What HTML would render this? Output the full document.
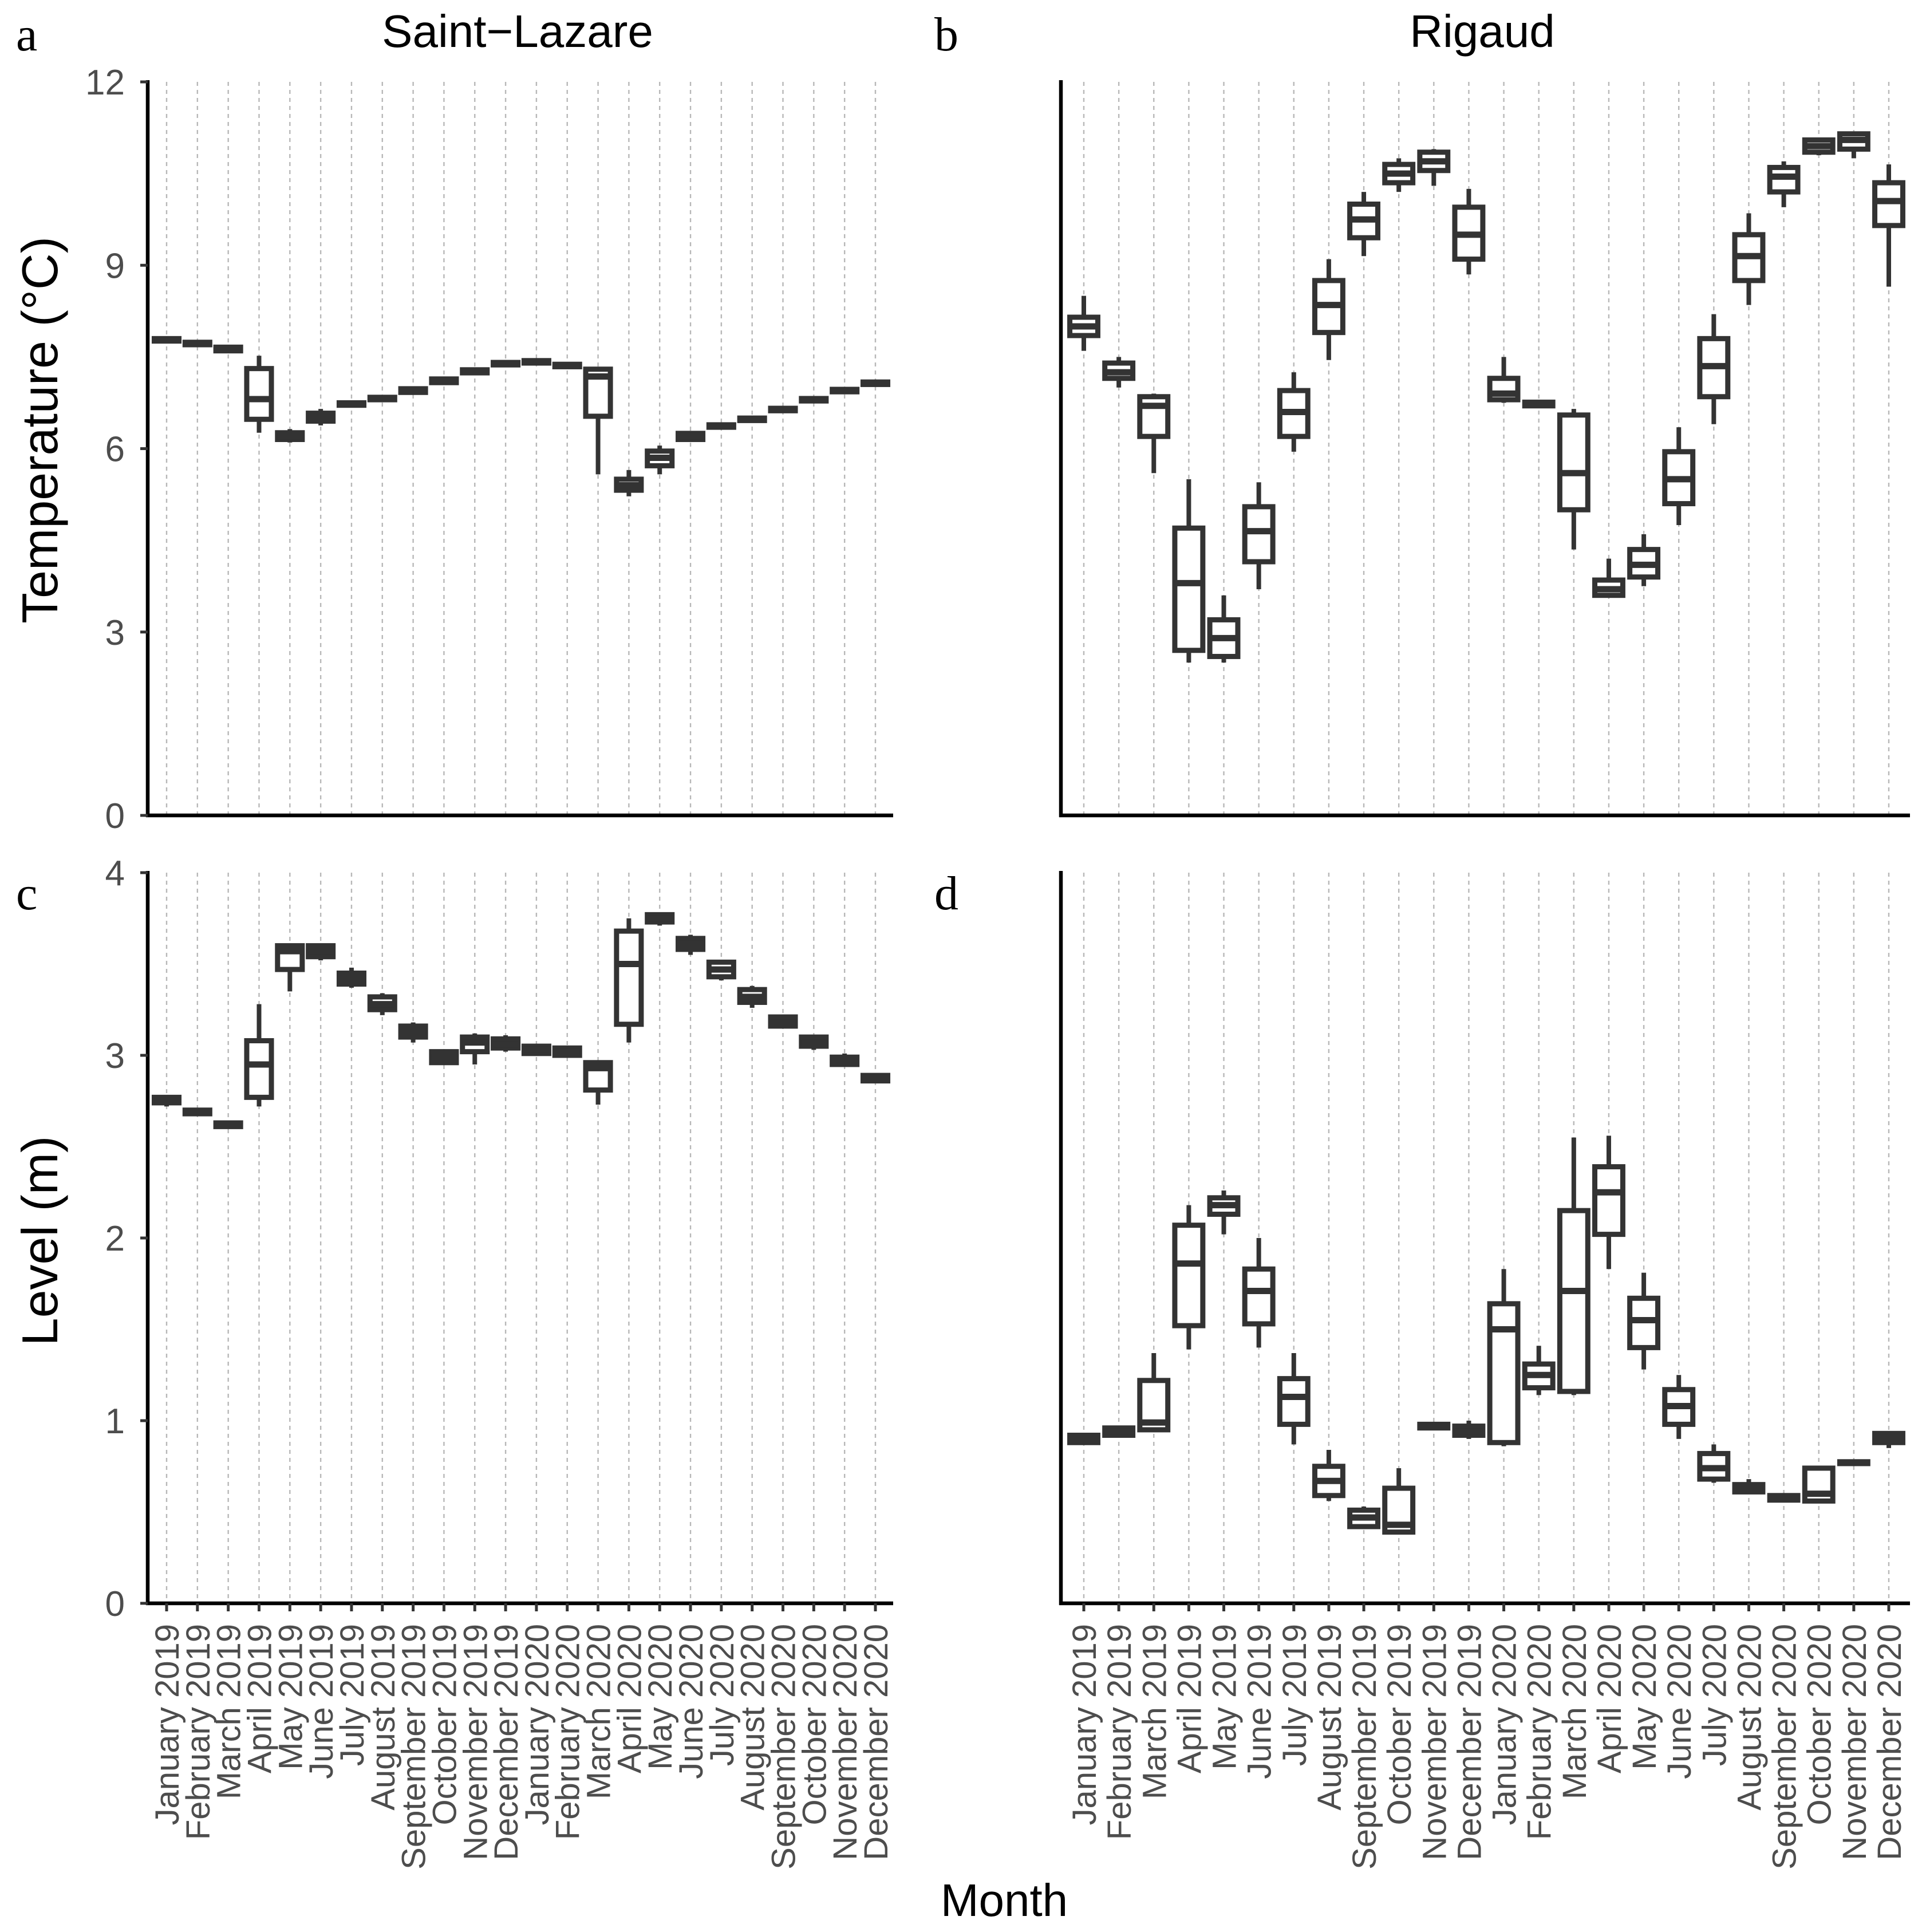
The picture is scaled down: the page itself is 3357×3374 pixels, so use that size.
<!DOCTYPE html>
<html><head><meta charset="utf-8"><style>
html,body{margin:0;padding:0;background:#fff}
svg{display:block}
text{font-family:"Liberation Sans",sans-serif}
</style></head><body>
<svg id="chart" width="3357" height="3374" viewBox="0 0 3357 3374" xmlns="http://www.w3.org/2000/svg"></svg>
<script>
const months = ["January 2019","February 2019","March 2019","April 2019","May 2019","June 2019","July 2019","August 2019","September 2019","October 2019","November 2019","December 2019","January 2020","February 2020","March 2020","April 2020","May 2020","June 2020","July 2020","August 2020","September 2020","October 2020","November 2020","December 2020"];
// [min, q1, median, q3, max]
const tempSaintLazare = [[7.74,7.76,7.78,7.80,7.82],[7.68,7.70,7.72,7.74,7.76],[7.57,7.60,7.63,7.66,7.68],[6.26,6.48,6.81,7.31,7.52],[6.10,6.15,6.20,6.26,6.32],[6.38,6.45,6.52,6.58,6.65],[6.70,6.71,6.73,6.75,6.77],[6.78,6.80,6.82,6.84,6.86],[6.90,6.92,6.95,6.98,7.00],[7.06,7.08,7.11,7.14,7.16],[7.22,7.24,7.26,7.29,7.31],[7.35,7.37,7.39,7.41,7.43],[7.38,7.40,7.42,7.44,7.46],[7.32,7.34,7.36,7.38,7.40],[5.58,6.53,7.18,7.30,7.32],[5.22,5.32,5.40,5.50,5.65],[5.58,5.72,5.85,5.96,6.05],[6.12,6.15,6.20,6.25,6.28],[6.34,6.35,6.37,6.39,6.41],[6.44,6.46,6.48,6.50,6.52],[6.60,6.62,6.64,6.66,6.68],[6.76,6.78,6.80,6.82,6.84],[6.92,6.93,6.95,6.97,6.99],[7.03,7.05,7.07,7.09,7.11]];
const tempRigaud = [[7.6,7.85,8.0,8.15,8.5],[7.0,7.15,7.25,7.4,7.5],[5.6,6.2,6.7,6.85,6.9],[2.5,2.7,3.8,4.7,5.5],[2.5,2.6,2.9,3.2,3.6],[3.7,4.15,4.65,5.05,5.45],[5.95,6.2,6.6,6.95,7.25],[7.45,7.9,8.35,8.75,9.1],[9.15,9.45,9.75,10.0,10.2],[10.2,10.35,10.5,10.65,10.75],[10.3,10.55,10.7,10.85,10.9],[8.85,9.1,9.5,9.95,10.25],[6.75,6.8,6.9,7.15,7.5],[6.68,6.7,6.73,6.76,6.78],[4.35,5.0,5.6,6.55,6.65],[3.6,3.6,3.7,3.85,4.2],[3.75,3.9,4.1,4.35,4.6],[4.75,5.1,5.5,5.95,6.35],[6.4,6.85,7.35,7.8,8.2],[8.35,8.75,9.15,9.5,9.85],[9.95,10.2,10.45,10.6,10.7],[10.8,10.85,10.95,11.05,11.05],[10.75,10.9,11.05,11.15,11.15],[8.65,9.65,10.05,10.35,10.65]];
const levelSaintLazare = [[2.72,2.74,2.75,2.77,2.78],[2.67,2.68,2.69,2.70,2.71],[2.60,2.61,2.62,2.63,2.64],[2.72,2.77,2.95,3.08,3.28],[3.35,3.47,3.57,3.60,3.60],[3.52,3.54,3.57,3.60,3.61],[3.37,3.39,3.42,3.45,3.48],[3.22,3.25,3.28,3.32,3.34],[3.07,3.10,3.13,3.16,3.18],[2.95,2.96,2.99,3.02,3.03],[2.95,3.02,3.07,3.10,3.12],[3.02,3.04,3.06,3.09,3.11],[3.00,3.01,3.03,3.05,3.06],[2.99,3.00,3.02,3.04,3.05],[2.73,2.81,2.93,2.96,2.97],[3.07,3.17,3.50,3.68,3.75],[3.71,3.73,3.75,3.77,3.78],[3.55,3.58,3.61,3.64,3.66],[3.41,3.43,3.47,3.51,3.52],[3.26,3.29,3.32,3.36,3.38],[3.15,3.16,3.18,3.21,3.22],[3.03,3.05,3.07,3.10,3.11],[2.94,2.95,2.97,2.99,3.01],[2.85,2.86,2.87,2.89,2.90]];
const levelRigaud = [[0.87,0.88,0.90,0.92,0.93],[0.91,0.92,0.94,0.96,0.97],[0.94,0.95,0.99,1.22,1.37],[1.39,1.52,1.86,2.07,2.18],[2.02,2.13,2.18,2.22,2.26],[1.40,1.53,1.71,1.83,2.00],[0.87,0.98,1.13,1.23,1.37],[0.56,0.59,0.67,0.75,0.84],[0.41,0.42,0.47,0.51,0.53],[0.38,0.39,0.43,0.63,0.74],[0.95,0.96,0.97,0.98,0.99],[0.90,0.92,0.94,0.97,1.00],[0.86,0.88,1.50,1.64,1.83],[1.14,1.18,1.25,1.31,1.41],[1.14,1.16,1.71,2.15,2.55],[1.83,2.02,2.25,2.39,2.56],[1.28,1.40,1.55,1.67,1.81],[0.90,0.98,1.08,1.17,1.25],[0.66,0.68,0.74,0.82,0.87],[0.60,0.61,0.63,0.65,0.68],[0.56,0.565,0.58,0.59,0.60],[0.56,0.56,0.60,0.74,0.75],[0.76,0.765,0.77,0.775,0.78],[0.85,0.88,0.90,0.93,0.94]];
const tempTicks = [0,3,6,9,12];
const levelTicks = [0,1,2,3,4];

const svg = document.getElementById('chart');
const NS = 'http://www.w3.org/2000/svg';
function mk(tag, attrs, parent){
  const e = document.createElementNS(NS, tag);
  for (const k in attrs) e.setAttribute(k, attrs[k]);
  (parent||svg).appendChild(e);
  return e;
}

function panel(cfg){
  const g = mk('g', {});
  
  
  const n = months.length;
  const step = (cfg.xLast - cfg.xFirst)/(n-1);
  const xs = i => cfg.xFirst + i*step;
  const ys = v => cfg.y0 - (v - cfg.vmin)/(cfg.vmax - cfg.vmin)*(cfg.y0 - cfg.yTop);
  for (let i=0;i<n;i++){
    const l = mk('line', {x1:xs(i), x2:xs(i), y1:cfg.yTop, y2:cfg.y0, stroke:'#b8b8b8', 'stroke-width':2.4, 'stroke-dasharray':'7,7'}, g);
    
    
  }
  const bw = step*0.8;
  cfg.data.forEach((d,i)=>{
    const bg = mk('g', {}, g);
    
    
    const x = xs(i);
    mk('line', {x1:x,x2:x,y1:ys(d[4]),y2:ys(d[3]),stroke:'#333','stroke-width':8}, bg);
    mk('line', {x1:x,x2:x,y1:ys(d[1]),y2:ys(d[0]),stroke:'#333','stroke-width':8}, bg);
    const top = ys(d[3]), bot = ys(d[1]);
    mk('rect', {x:x-bw/2, y:top, width:bw, height:Math.max(bot-top,0.5), fill:'#fff', stroke:'#333','stroke-width':9}, bg);
    mk('line', {x1:x-bw/2,x2:x+bw/2,y1:ys(d[2]),y2:ys(d[2]),stroke:'#333','stroke-width':11}, bg);
  });
  const ya = mk('line', {x1:cfg.xAxis,x2:cfg.xAxis,y1:cfg.yTop-3,y2:cfg.y0+3,stroke:'#000','stroke-width':6.5}, g);
   
  const xa = mk('line', {x1:cfg.xAxis-3,x2:cfg.xRight,y1:cfg.y0,y2:cfg.y0,stroke:'#000','stroke-width':6.5}, g);
   
  if (cfg.yLabels){
    cfg.ticks.forEach(t=>{
      mk('line', {x1:cfg.xAxis-13,x2:cfg.xAxis,y1:ys(t),y2:ys(t),stroke:'#333','stroke-width':5}, g);
      const tx = mk('text', {x:cfg.xAxis-40, y:ys(t)+22, 'text-anchor':'end','font-size':62, fill:'#4d4d4d'}, g);
      tx.textContent = t;
      
      
    });
  }
  if (cfg.xLabels){
    months.forEach((m,i)=>{
      mk('line', {x1:xs(i),x2:xs(i),y1:cfg.y0,y2:cfg.y0+14,stroke:'#333','stroke-width':5}, g);
      const tx = mk('text', {x:0,y:0,'text-anchor':'end','font-size':58, fill:'#4d4d4d', transform:`translate(${xs(i)+21},${cfg.y0+36}) rotate(-90)`}, g);
      tx.textContent = m;
      
      
    });
  }
}

panel({name:'panel-a-temperature-saint-lazare', data:tempSaintLazare, ticks:tempTicks, vmin:0, vmax:12, yTop:143, y0:1424, xAxis:258, xRight:1560, xFirst:291, xLast:1529, yLabels:true, xLabels:false});
panel({name:'panel-b-temperature-rigaud', data:tempRigaud, ticks:tempTicks, vmin:0, vmax:12, yTop:143, y0:1424, xAxis:1853, xRight:3336, xFirst:1893, xLast:3299, yLabels:false, xLabels:false});
panel({name:'panel-c-level-saint-lazare', data:levelSaintLazare, ticks:levelTicks, vmin:0, vmax:4, yTop:1524, y0:2800, xAxis:258, xRight:1560, xFirst:291, xLast:1529, yLabels:true, xLabels:true});
panel({name:'panel-d-level-rigaud', data:levelRigaud, ticks:levelTicks, vmin:0, vmax:4, yTop:1524, y0:2800, xAxis:1853, xRight:3336, xFirst:1893, xLast:3299, yLabels:false, xLabels:true});

function label(txt, attrs, name){
  const t = mk('text', attrs);
  t.textContent = txt;
  
  
}
label('Saint\u2212Lazare', {x:904, y:82, 'text-anchor':'middle','font-size':80, fill:'#000'}, 'title-saint-lazare');
label('Rigaud', {x:2589, y:82, 'text-anchor':'middle','font-size':80, fill:'#000'}, 'title-rigaud');
label('a', {x:28, y:88, 'font-size':84, fill:'#000', style:'font-family:"Liberation Serif",serif'}, 'panel-label-a');
label('b', {x:1632, y:88, 'font-size':84, fill:'#000', style:'font-family:"Liberation Serif",serif'}, 'panel-label-b');
label('c', {x:28, y:1588, 'font-size':84, fill:'#000', style:'font-family:"Liberation Serif",serif'}, 'panel-label-c');
label('d', {x:1632, y:1588, 'font-size':84, fill:'#000', style:'font-family:"Liberation Serif",serif'}, 'panel-label-d');
label('Temperature (\u00B0C)', {x:0, y:0, 'text-anchor':'middle','font-size':88, fill:'#000', transform:'translate(100,751) rotate(-90)'}, 'y-axis-title-temperature');
label('Level (m)', {x:0, y:0, 'text-anchor':'middle','font-size':88, fill:'#000', transform:'translate(100,2167) rotate(-90)'}, 'y-axis-title-level');
label('Month', {x:1754, y:3346, 'text-anchor':'middle','font-size':80, fill:'#000'}, 'x-axis-title');
</script>
</body></html>
